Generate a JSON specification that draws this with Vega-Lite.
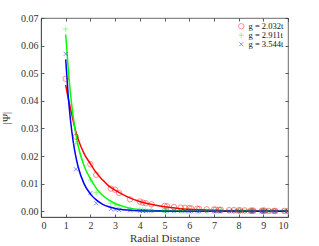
{
  "$schema": "https://vega.github.io/schema/vega-lite/v6.json",
  "autosize": "none",
  "padding": {"left": 41, "top": 18, "right": 31, "bottom": 29},
  "width": 247,
  "height": 199,
  "background": "white",
  "config": {
    "font": "Liberation Serif",
    "view": {"stroke": "#444444", "strokeWidth": 0.8},
    "axis": {
      "labelFont": "Liberation Serif", "titleFont": "Liberation Serif",
      "labelFontSize": 10, "titleFontSize": 11, "titleFontWeight": "normal",
      "labelColor": "#333333", "titleColor": "#333333",
      "domainColor": "#444444", "tickColor": "#333333", "domainWidth": 0.8, "tickWidth": 0.8,
      "grid": false, "tickSize": -3, "labelPadding": 6
    }
  },
  "datasets": {
    "pts": [
      {"x": 1, "y": 0.048, "s": "g = 2.032t"},
      {"x": 1.414, "y": 0.027, "s": "g = 2.032t"},
      {"x": 2, "y": 0.017, "s": "g = 2.032t"},
      {"x": 2.236, "y": 0.0132, "s": "g = 2.032t"},
      {"x": 2.828, "y": 0.0082, "s": "g = 2.032t"},
      {"x": 3, "y": 0.0078, "s": "g = 2.032t"},
      {"x": 3.162, "y": 0.0066, "s": "g = 2.032t"},
      {"x": 3.606, "y": 0.0043, "s": "g = 2.032t"},
      {"x": 4, "y": 0.0035, "s": "g = 2.032t"},
      {"x": 4.123, "y": 0.0031, "s": "g = 2.032t"},
      {"x": 4.243, "y": 0.0029, "s": "g = 2.032t"},
      {"x": 4.472, "y": 0.0025, "s": "g = 2.032t"},
      {"x": 5, "y": 0.0019, "s": "g = 2.032t"},
      {"x": 5.099, "y": 0.0018, "s": "g = 2.032t"},
      {"x": 5.385, "y": 0.0015, "s": "g = 2.032t"},
      {"x": 5.657, "y": 0.0013, "s": "g = 2.032t"},
      {"x": 5.831, "y": 0.0012, "s": "g = 2.032t"},
      {"x": 6, "y": 0.0011, "s": "g = 2.032t"},
      {"x": 6.083, "y": 0.001, "s": "g = 2.032t"},
      {"x": 6.325, "y": 0.0009, "s": "g = 2.032t"},
      {"x": 6.403, "y": 0.0008, "s": "g = 2.032t"},
      {"x": 6.708, "y": 0.0007, "s": "g = 2.032t"},
      {"x": 7, "y": 0.0006, "s": "g = 2.032t"},
      {"x": 7.071, "y": 0.0006, "s": "g = 2.032t"},
      {"x": 7.211, "y": 0.0005, "s": "g = 2.032t"},
      {"x": 7.28, "y": 0.0005, "s": "g = 2.032t"},
      {"x": 7.616, "y": 0.0004, "s": "g = 2.032t"},
      {"x": 7.81, "y": 0.0004, "s": "g = 2.032t"},
      {"x": 8, "y": 0.0003, "s": "g = 2.032t"},
      {"x": 8.062, "y": 0.0003, "s": "g = 2.032t"},
      {"x": 8.246, "y": 0.0003, "s": "g = 2.032t"},
      {"x": 8.485, "y": 0.0002, "s": "g = 2.032t"},
      {"x": 8.544, "y": 0.0002, "s": "g = 2.032t"},
      {"x": 8.602, "y": 0.0002, "s": "g = 2.032t"},
      {"x": 8.944, "y": 0.0002, "s": "g = 2.032t"},
      {"x": 9, "y": 0.0002, "s": "g = 2.032t"},
      {"x": 9.055, "y": 0.0002, "s": "g = 2.032t"},
      {"x": 9.22, "y": 0.0001, "s": "g = 2.032t"},
      {"x": 9.434, "y": 0.0001, "s": "g = 2.032t"},
      {"x": 9.487, "y": 0.0001, "s": "g = 2.032t"},
      {"x": 9.849, "y": 0.0001, "s": "g = 2.032t"},
      {"x": 10, "y": 0.0001, "s": "g = 2.032t"},
      {"x": 1, "y": 0.066, "s": "g = 2.911t"},
      {"x": 1.414, "y": 0.0245, "s": "g = 2.911t"},
      {"x": 2, "y": 0.0113, "s": "g = 2.911t"},
      {"x": 2.236, "y": 0.0068, "s": "g = 2.911t"},
      {"x": 2.828, "y": 0.0029, "s": "g = 2.911t"},
      {"x": 3, "y": 0.0023, "s": "g = 2.911t"},
      {"x": 3.162, "y": 0.0012, "s": "g = 2.911t"},
      {"x": 3.606, "y": 0.0008, "s": "g = 2.911t"},
      {"x": 4, "y": 0.0005, "s": "g = 2.911t"},
      {"x": 4.123, "y": 0.0005, "s": "g = 2.911t"},
      {"x": 4.243, "y": 0.0004, "s": "g = 2.911t"},
      {"x": 4.472, "y": 0.0003, "s": "g = 2.911t"},
      {"x": 5, "y": 0.0002, "s": "g = 2.911t"},
      {"x": 5.099, "y": 0.0002, "s": "g = 2.911t"},
      {"x": 5.385, "y": 0.0001, "s": "g = 2.911t"},
      {"x": 5.657, "y": 0.0001, "s": "g = 2.911t"},
      {"x": 5.831, "y": 0.0001, "s": "g = 2.911t"},
      {"x": 6, "y": 0.0001, "s": "g = 2.911t"},
      {"x": 6.083, "y": 0.0001, "s": "g = 2.911t"},
      {"x": 6.325, "y": 0.0001, "s": "g = 2.911t"},
      {"x": 6.403, "y": 0.0001, "s": "g = 2.911t"},
      {"x": 6.708, "y": 0.0, "s": "g = 2.911t"},
      {"x": 7, "y": 0.0, "s": "g = 2.911t"},
      {"x": 7.071, "y": 0.0, "s": "g = 2.911t"},
      {"x": 7.211, "y": 0.0, "s": "g = 2.911t"},
      {"x": 7.28, "y": 0.0, "s": "g = 2.911t"},
      {"x": 7.616, "y": 0.0, "s": "g = 2.911t"},
      {"x": 7.81, "y": 0.0, "s": "g = 2.911t"},
      {"x": 8, "y": 0.0, "s": "g = 2.911t"},
      {"x": 8.062, "y": 0.0, "s": "g = 2.911t"},
      {"x": 8.246, "y": 0.0, "s": "g = 2.911t"},
      {"x": 8.485, "y": 0.0, "s": "g = 2.911t"},
      {"x": 8.544, "y": 0.0, "s": "g = 2.911t"},
      {"x": 8.602, "y": 0.0, "s": "g = 2.911t"},
      {"x": 8.944, "y": 0.0, "s": "g = 2.911t"},
      {"x": 9, "y": 0.0, "s": "g = 2.911t"},
      {"x": 9.055, "y": 0.0, "s": "g = 2.911t"},
      {"x": 9.22, "y": 0.0, "s": "g = 2.911t"},
      {"x": 9.434, "y": 0.0, "s": "g = 2.911t"},
      {"x": 9.487, "y": 0.0, "s": "g = 2.911t"},
      {"x": 9.849, "y": 0.0, "s": "g = 2.911t"},
      {"x": 10, "y": 0.0, "s": "g = 2.911t"},
      {"x": 1, "y": 0.057, "s": "g = 3.544t"},
      {"x": 1.414, "y": 0.0152, "s": "g = 3.544t"},
      {"x": 2, "y": 0.0066, "s": "g = 3.544t"},
      {"x": 2.236, "y": 0.0029, "s": "g = 3.544t"},
      {"x": 2.828, "y": 0.0008, "s": "g = 3.544t"},
      {"x": 3, "y": 0.0006, "s": "g = 3.544t"},
      {"x": 3.162, "y": 0.0004, "s": "g = 3.544t"},
      {"x": 3.606, "y": 0.0003, "s": "g = 3.544t"},
      {"x": 4, "y": 0.0001, "s": "g = 3.544t"},
      {"x": 4.123, "y": 0.0001, "s": "g = 3.544t"},
      {"x": 4.243, "y": 0.0001, "s": "g = 3.544t"},
      {"x": 4.472, "y": 0.0001, "s": "g = 3.544t"},
      {"x": 5, "y": 0.0, "s": "g = 3.544t"},
      {"x": 5.099, "y": 0.0, "s": "g = 3.544t"},
      {"x": 5.385, "y": 0.0, "s": "g = 3.544t"},
      {"x": 5.657, "y": 0.0, "s": "g = 3.544t"},
      {"x": 5.831, "y": 0.0, "s": "g = 3.544t"},
      {"x": 6, "y": 0.0, "s": "g = 3.544t"},
      {"x": 6.083, "y": 0.0, "s": "g = 3.544t"},
      {"x": 6.325, "y": 0.0, "s": "g = 3.544t"},
      {"x": 6.403, "y": 0.0, "s": "g = 3.544t"},
      {"x": 6.708, "y": 0.0, "s": "g = 3.544t"},
      {"x": 7, "y": 0.0, "s": "g = 3.544t"},
      {"x": 7.071, "y": 0.0, "s": "g = 3.544t"},
      {"x": 7.211, "y": 0.0, "s": "g = 3.544t"},
      {"x": 7.28, "y": 0.0, "s": "g = 3.544t"},
      {"x": 7.616, "y": 0.0, "s": "g = 3.544t"},
      {"x": 7.81, "y": 0.0, "s": "g = 3.544t"},
      {"x": 8, "y": 0.0, "s": "g = 3.544t"},
      {"x": 8.062, "y": 0.0, "s": "g = 3.544t"},
      {"x": 8.246, "y": 0.0, "s": "g = 3.544t"},
      {"x": 8.485, "y": 0.0, "s": "g = 3.544t"},
      {"x": 8.544, "y": 0.0, "s": "g = 3.544t"},
      {"x": 8.602, "y": 0.0, "s": "g = 3.544t"},
      {"x": 8.944, "y": 0.0, "s": "g = 3.544t"},
      {"x": 9, "y": 0.0, "s": "g = 3.544t"},
      {"x": 9.055, "y": 0.0, "s": "g = 3.544t"},
      {"x": 9.22, "y": 0.0, "s": "g = 3.544t"},
      {"x": 9.434, "y": 0.0, "s": "g = 3.544t"},
      {"x": 9.487, "y": 0.0, "s": "g = 3.544t"},
      {"x": 9.849, "y": 0.0, "s": "g = 3.544t"},
      {"x": 10, "y": 0.0, "s": "g = 3.544t"}
    ],
    "fit": [
      {"x": 1, "y": 0.0458, "s": "g = 2.032t"},
      {"x": 1.1, "y": 0.041, "s": "g = 2.032t"},
      {"x": 1.2, "y": 0.037, "s": "g = 2.032t"},
      {"x": 1.3, "y": 0.0328, "s": "g = 2.032t"},
      {"x": 1.4, "y": 0.0292, "s": "g = 2.032t"},
      {"x": 1.5, "y": 0.0262, "s": "g = 2.032t"},
      {"x": 1.75, "y": 0.0208, "s": "g = 2.032t"},
      {"x": 2, "y": 0.0172, "s": "g = 2.032t"},
      {"x": 2.25, "y": 0.0138, "s": "g = 2.032t"},
      {"x": 2.5, "y": 0.0113, "s": "g = 2.032t"},
      {"x": 2.75, "y": 0.0091, "s": "g = 2.032t"},
      {"x": 3, "y": 0.0076, "s": "g = 2.032t"},
      {"x": 3.5, "y": 0.0052, "s": "g = 2.032t"},
      {"x": 4, "y": 0.0035, "s": "g = 2.032t"},
      {"x": 4.5, "y": 0.0024, "s": "g = 2.032t"},
      {"x": 5, "y": 0.0016, "s": "g = 2.032t"},
      {"x": 5.5, "y": 0.0011, "s": "g = 2.032t"},
      {"x": 6, "y": 0.0007, "s": "g = 2.032t"},
      {"x": 6.5, "y": 0.0005, "s": "g = 2.032t"},
      {"x": 7, "y": 0.0003, "s": "g = 2.032t"},
      {"x": 8, "y": 0.00015, "s": "g = 2.032t"},
      {"x": 9, "y": 0.00008, "s": "g = 2.032t"},
      {"x": 10, "y": 0.00004, "s": "g = 2.032t"},
      {"x": 1, "y": 0.064, "s": "g = 2.911t"},
      {"x": 1.1, "y": 0.052, "s": "g = 2.911t"},
      {"x": 1.2, "y": 0.042, "s": "g = 2.911t"},
      {"x": 1.3, "y": 0.0345, "s": "g = 2.911t"},
      {"x": 1.4, "y": 0.0285, "s": "g = 2.911t"},
      {"x": 1.5, "y": 0.0238, "s": "g = 2.911t"},
      {"x": 1.75, "y": 0.0163, "s": "g = 2.911t"},
      {"x": 2, "y": 0.0118, "s": "g = 2.911t"},
      {"x": 2.25, "y": 0.0082, "s": "g = 2.911t"},
      {"x": 2.5, "y": 0.0057, "s": "g = 2.911t"},
      {"x": 2.75, "y": 0.004, "s": "g = 2.911t"},
      {"x": 3, "y": 0.0028, "s": "g = 2.911t"},
      {"x": 3.5, "y": 0.0013, "s": "g = 2.911t"},
      {"x": 4, "y": 0.0006, "s": "g = 2.911t"},
      {"x": 4.5, "y": 0.0003, "s": "g = 2.911t"},
      {"x": 5, "y": 0.00015, "s": "g = 2.911t"},
      {"x": 6, "y": 0.00004, "s": "g = 2.911t"},
      {"x": 7, "y": 0.00001, "s": "g = 2.911t"},
      {"x": 8, "y": 0.0, "s": "g = 2.911t"},
      {"x": 9, "y": 0.0, "s": "g = 2.911t"},
      {"x": 10, "y": 0.0, "s": "g = 2.911t"},
      {"x": 1, "y": 0.055, "s": "g = 3.544t"},
      {"x": 1.1, "y": 0.042, "s": "g = 3.544t"},
      {"x": 1.2, "y": 0.0325, "s": "g = 3.544t"},
      {"x": 1.3, "y": 0.0255, "s": "g = 3.544t"},
      {"x": 1.4, "y": 0.0202, "s": "g = 3.544t"},
      {"x": 1.5, "y": 0.0162, "s": "g = 3.544t"},
      {"x": 1.75, "y": 0.0098, "s": "g = 3.544t"},
      {"x": 2, "y": 0.0062, "s": "g = 3.544t"},
      {"x": 2.25, "y": 0.004, "s": "g = 3.544t"},
      {"x": 2.5, "y": 0.0025, "s": "g = 3.544t"},
      {"x": 2.75, "y": 0.0016, "s": "g = 3.544t"},
      {"x": 3, "y": 0.001, "s": "g = 3.544t"},
      {"x": 3.5, "y": 0.0004, "s": "g = 3.544t"},
      {"x": 4, "y": 0.00015, "s": "g = 3.544t"},
      {"x": 5, "y": 0.00003, "s": "g = 3.544t"},
      {"x": 6, "y": 0.0, "s": "g = 3.544t"},
      {"x": 8, "y": 0.0, "s": "g = 3.544t"},
      {"x": 10, "y": 0.0, "s": "g = 3.544t"}
    ]
  },
  "layer": [
    {
      "data": {"name": "fit"},
      "encoding": {
        "x": {"field": "x", "type": "quantitative", "scale": {"domain": [0, 10], "nice": false},
              "axis": {"orient": "bottom", "title": "Radial Distance", "values": [0,1,2,3,4,5,6,7,8,9,10], "format": "d", "titlePadding": 2}},
        "y": {"field": "y", "type": "quantitative", "scale": {"domain": [-0.0021, 0.07], "nice": false, "zero": false},
              "axis": {"orient": "left", "title": "|Ψ|", "values": [0,0.01,0.02,0.03,0.04,0.05,0.06,0.07], "format": ".2f", "titlePadding": 9}}
      },
      "layer": [
        {"transform": [{"filter": {"field": "s", "equal": "g = 2.032t"}}],
         "mark": {"type": "line", "strokeWidth": 1.5, "interpolate": "monotone", "clip": true, "color": "#ff0000"}},
        {"transform": [{"filter": {"field": "s", "equal": "g = 2.911t"}}],
         "mark": {"type": "line", "strokeWidth": 1.5, "interpolate": "monotone", "clip": true, "color": "#00ff00"}},
        {"transform": [{"filter": {"field": "s", "equal": "g = 3.544t"}}],
         "mark": {"type": "line", "strokeWidth": 1.5, "interpolate": "monotone", "clip": true, "color": "#0000ff"}}
      ]
    },
    {
      "data": {"name": "pts"},
      "mark": {"type": "point", "filled": false, "strokeWidth": 0.8, "opacity": 0.55, "size": 30, "clip": true},
      "encoding": {
        "x": {"field": "x", "type": "quantitative", "scale": {"domain": [0, 10], "nice": false},
              "axis": {"orient": "top", "labels": false, "title": null, "domain": false, "values": [0,1,2,3,4,5,6,7,8,9,10]}},
        "y": {"field": "y", "type": "quantitative", "scale": {"domain": [-0.0021, 0.07], "nice": false, "zero": false},
              "axis": {"orient": "right", "labels": false, "title": null, "domain": false, "values": [0,0.01,0.02,0.03,0.04,0.05,0.06,0.07]}},
        "color": {"field": "s", "type": "nominal",
                  "scale": {"domain": ["g = 2.032t", "g = 2.911t", "g = 3.544t"], "range": ["#ff0000", "#00ff00", "#0000ff"]},
                  "legend": {"orient": "top-right", "title": null, "offset": 4, "labelFont": "Liberation Serif", "labelFontSize": 8.5, "labelColor": "#111111", "symbolSize": 30, "symbolStrokeWidth": 0.8, "rowPadding": -3, "labelOffset": 3, "padding": 0, "symbolOpacity": 0.55}},
        "shape": {"field": "s", "type": "nominal",
                  "scale": {"domain": ["g = 2.032t", "g = 2.911t", "g = 3.544t"], "range": ["circle", "M-1,0H1M0,-1V1", "M-0.75,-0.75L0.75,0.75M-0.75,0.75L0.75,-0.75"]},
                  "legend": {"orient": "top-right", "title": null, "offset": 4, "labelFont": "Liberation Serif", "labelFontSize": 8.5, "labelColor": "#111111", "symbolSize": 30, "symbolStrokeWidth": 0.8, "rowPadding": -3, "labelOffset": 3, "padding": 0, "symbolOpacity": 0.55}}
      }
    }
  ],
  "resolve": {"scale": {"x": "independent", "y": "independent"}, "axis": {"x": "independent", "y": "independent"}}
}
